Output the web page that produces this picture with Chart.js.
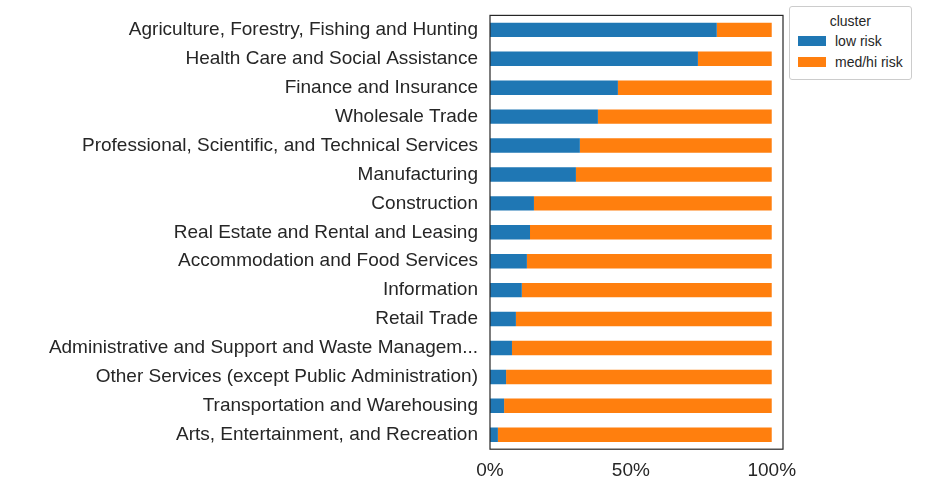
<!DOCTYPE html>
<html>
<head>
<meta charset="utf-8">
<script src="https://cdn.jsdelivr.net/npm/chart.js@4"></script>
<style>
  body { margin: 0; background: #fff; font-family: "Liberation Sans", Arial, sans-serif; }
  #wrap { position: relative; width: 936px; height: 486px; }
  #legend { position: absolute; left: 789px; top: 6px; border: 1px solid #ccc; border-radius: 3px;
    padding: 6px 8px 4px 8px; font-size: 14px; color: #262626; background: #fff; }
  #legend .t { text-align: center; margin-bottom: 4px; }
  #legend .r { display: flex; align-items: center; margin-bottom: 5px; }
  #legend .s { width: 28px; height: 10px; margin-right: 9px; }
</style>
</head>
<body>
<div id="wrap">
  <canvas id="c" width="936" height="486"></canvas>
  <div id="legend">
    <div class="t">cluster</div>
    <div class="r"><span class="s" style="background:#1f77b4"></span>low risk</div>
    <div class="r"><span class="s" style="background:#ff7f0e"></span>med/hi risk</div>
  </div>
</div>
<script>
// 行业类别
const industries = [
  'Agriculture, Forestry, Fishing and Hunting',
  'Health Care and Social Assistance',
  'Finance and Insurance',
  'Wholesale Trade',
  'Professional, Scientific, and Technical Services',
  'Manufacturing',
  'Construction',
  'Real Estate and Rental and Leasing',
  'Accommodation and Food Services',
  'Information',
  'Retail Trade',
  'Administrative and Support and Waste Managem...',
  'Other Services (except Public Administration)',
  'Transportation and Warehousing',
  'Arts, Entertainment, and Recreation'
];
// 低风险占比（%）
const lowRisk = [80.5, 73.8, 45.4, 38.3, 31.9, 30.5, 15.6, 14.2, 13.1, 11.3, 9.2, 7.8, 5.7, 5.0, 2.8];
const medHiRisk = lowRisk.map(v => 100 - v);
const xTicks = [0, 50, 100];

/** 画坐标框 */
const boxPlugin = {
  id: 'box',
  afterDraw(chart) {
    const a = chart.chartArea, ctx = chart.ctx;
    ctx.save();
    ctx.strokeStyle = '#262626';
    ctx.lineWidth = 1.2;
    ctx.strokeRect(a.left, a.top, a.right - a.left, a.bottom - a.top);
    ctx.restore();
  }
};

new Chart(document.getElementById('c'), {
  type: 'bar',
  data: {
    labels: industries,
    datasets: [
      { label: 'low risk', data: lowRisk, backgroundColor: '#1f77b4' },
      { label: 'med/hi risk', data: medHiRisk, backgroundColor: '#ff7f0e' }
    ]
  },
  options: {
    indexAxis: 'y',
    responsive: false,
    animation: false,
    layout: { padding: { top: 15, right: 153, bottom: 2, left: 0 } },
    datasets: { bar: { barPercentage: 0.5, categoryPercentage: 1 } },
    plugins: { legend: { display: false }, tooltip: { enabled: false } },
    scales: {
      x: {
        stacked: true, min: 0, max: 104,
        afterBuildTicks: ax => { ax.ticks = xTicks.map(v => ({ value: v })); },
        grid: { display: false },
        border: { display: false },
        ticks: { color: '#262626', font: { size: 19, family: 'Liberation Sans' }, padding: 2,
          callback: v => v + '%' }
      },
      y: {
        stacked: true,
        afterFit: ax => { ax.width = 490; },
        grid: { display: false },
        border: { display: false },
        ticks: { color: '#262626', font: { size: 19, family: 'Liberation Sans' }, padding: 4, autoSkip: false }
      }
    }
  },
  plugins: [boxPlugin]
});
</script>
</body>
</html>
